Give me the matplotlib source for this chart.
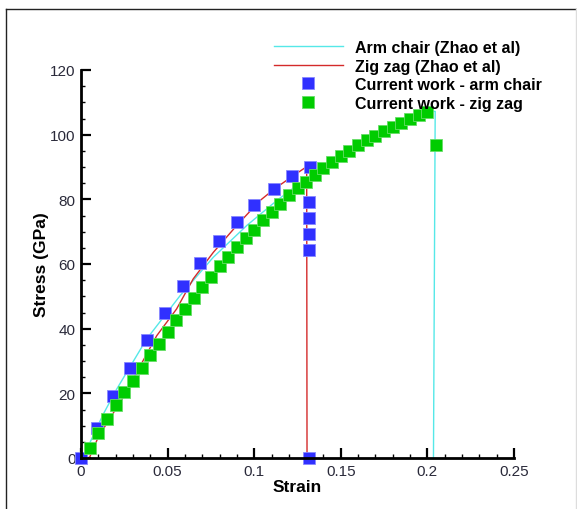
import numpy as np
import matplotlib
matplotlib.use("Agg")
import matplotlib.pyplot as plt
from matplotlib.lines import Line2D
from matplotlib.ticker import MultipleLocator

plt.rcParams.update({
    "font.family": ["Liberation Sans", "DejaVu Sans"],
})

# ── DATA ───────────────────────────────────────────────────────────────────────
# Zhao et al, arm chair (cyan line)
arm_ref_x = [0.001, 0.0129, 0.0206, 0.0379, 0.0572, 0.0764, 0.0957, 0.113,
             0.13, 0.15, 0.17, 0.19, 0.2, 0.2045, 0.2035]
arm_ref_y = [0.0, 13.6, 21.3, 36.8, 50.2, 62.1, 71.9, 79.6,
             86.5, 93.5, 99.5, 104.5, 107.2, 107.2, 0.0]

# Zhao et al, zig zag (red line)
zig_ref_x = [0.0048, 0.01, 0.024, 0.0437, 0.0552, 0.0648, 0.0764, 0.0899,
             0.1033, 0.1116, 0.122, 0.1303, 0.1305]
zig_ref_y = [0.0, 6.5, 18.5, 37.8, 46.1, 55.4, 63.6, 71.9,
             79.6, 83.2, 87.1, 90.1, 0.0]

# current work, arm chair (blue squares)
arm_cw_x = [0.0, 0.009, 0.0183, 0.0283, 0.0383, 0.0483, 0.0587, 0.0687,
            0.0795, 0.0899, 0.0999, 0.1116, 0.122, 0.1322,
            0.1318, 0.1318, 0.1318, 0.1318, 0.1318]
arm_cw_y = [0.0, 9.2, 19.1, 27.7, 36.4, 44.8, 53.1, 60.2,
            67.0, 72.9, 78.3, 83.2, 87.1, 90.1,
            79.3, 74.2, 69.2, 64.2, 0.0]

# current work, zig zag (green squares)
zig_cw_x = [0.005, 0.01, 0.015, 0.02, 0.025, 0.03, 0.035, 0.04, 0.045, 0.05,
            0.055, 0.06, 0.065, 0.07, 0.075, 0.08, 0.085, 0.09, 0.095, 0.1,
            0.105, 0.11, 0.115, 0.12, 0.125, 0.13, 0.135, 0.14, 0.145, 0.15,
            0.155, 0.16, 0.165, 0.17, 0.175, 0.18, 0.185, 0.19, 0.195, 0.2,
            0.2048]
zig_cw_y = [3.1, 7.7, 12.1, 16.4, 20.5, 23.9, 27.8, 32.0, 35.3, 39.1,
            42.7, 46.1, 49.5, 52.8, 55.9, 59.3, 62.2, 65.2, 67.9, 70.6,
            73.6, 76.0, 78.6, 81.4, 83.4, 85.5, 87.5, 89.6, 91.6, 93.4,
            95.1, 96.7, 98.3, 99.7, 101.1, 102.5, 103.6, 104.9, 106.1, 106.9,
            96.9]

CYAN = "#55e8e8"
RED = "#d42a2a"
BLUE = "#3030ff"
GREEN = "#00cc00"
TICKCOL = "#2a2a3a"

# ── FIGURE ─────────────────────────────────────────────────────────────────────
fig = plt.figure(figsize=(5.77, 5.10), dpi=100)
W, H = 577, 510
ax = fig.add_axes([81 / W, 1 - 459 / H, (514 - 81) / W, (459 - 71) / H])

ax.plot(arm_ref_x, arm_ref_y, color=CYAN, lw=1.0, zorder=2)
ax.plot(zig_ref_x, zig_ref_y, color=RED, lw=1.0, zorder=2)
ax.plot(arm_cw_x, arm_cw_y, ls="none", marker="s", ms=8.5, mfc=BLUE,
        mec="#8888ff", mew=0.6, zorder=3, clip_on=False)
ax.plot(zig_cw_x, zig_cw_y, ls="none", marker="s", ms=8.0, mfc=GREEN,
        mec="#66dd66", mew=0.6, zorder=4, clip_on=False)

ax.set_xlim(0, 0.25)
ax.set_ylim(0, 120)
ax.xaxis.set_major_locator(MultipleLocator(0.05))
ax.xaxis.set_minor_locator(MultipleLocator(0.01))
ax.yaxis.set_major_locator(MultipleLocator(20))
ax.yaxis.set_minor_locator(MultipleLocator(5))
ax.set_xticks([0, 0.05, 0.1, 0.15, 0.2, 0.25])
ax.set_xticklabels(["0", "0.05", "0.1", "0.15", "0.2", "0.25"])

for s in ["top", "right"]:
    ax.spines[s].set_visible(False)
for s in ["left", "bottom"]:
    ax.spines[s].set_linewidth(2.0)
    ax.spines[s].set_zorder(5)

ax.tick_params(which="major", direction="in", length=7, width=1.6,
               labelsize=11, labelcolor=TICKCOL, pad=4)
ax.tick_params(which="minor", direction="in", length=3, width=1.0)

ax.set_xlabel("Strain", fontsize=12.5, fontweight="bold", labelpad=1)
ax.set_ylabel("Stress (GPa)", fontsize=12.5, fontweight="bold", labelpad=0.5)

handles = [
    Line2D([], [], color=CYAN, lw=1.0),
    Line2D([], [], color=RED, lw=1.0),
    Line2D([], [], ls="none", marker="s", ms=8.5, mfc=BLUE, mec="#8888ff", mew=0.6),
    Line2D([], [], ls="none", marker="s", ms=8.0, mfc=GREEN, mec="#66dd66", mew=0.6),
]
labels = ["Arm chair (Zhao et al)", "Zig zag (Zhao et al)",
          "Current work - arm chair", "Current work - zig zag"]
fig.legend(handles, labels, loc="upper left",
           bbox_to_anchor=(274 / W, 1 - 41 / H), frameon=False,
           prop={"weight": "bold", "size": 11.5}, handlelength=4.3,
           handletextpad=0.8, labelspacing=0.22, borderpad=0, borderaxespad=0)

# outer frame
fig.add_artist(Line2D([6 / W, 1.0], [1 - 10 / H, 1 - 10 / H], color="#222222", lw=1.0))
fig.add_artist(Line2D([6 / W, 6 / W], [0.0, 1 - 10 / H], color="#222222", lw=1.0))
fig.add_artist(Line2D([1 - 1.5 / W, 1 - 1.5 / W], [0.0, 1 - 10 / H], color="#dddddd", lw=1.0))

fig.savefig("out.png", dpi=100)
